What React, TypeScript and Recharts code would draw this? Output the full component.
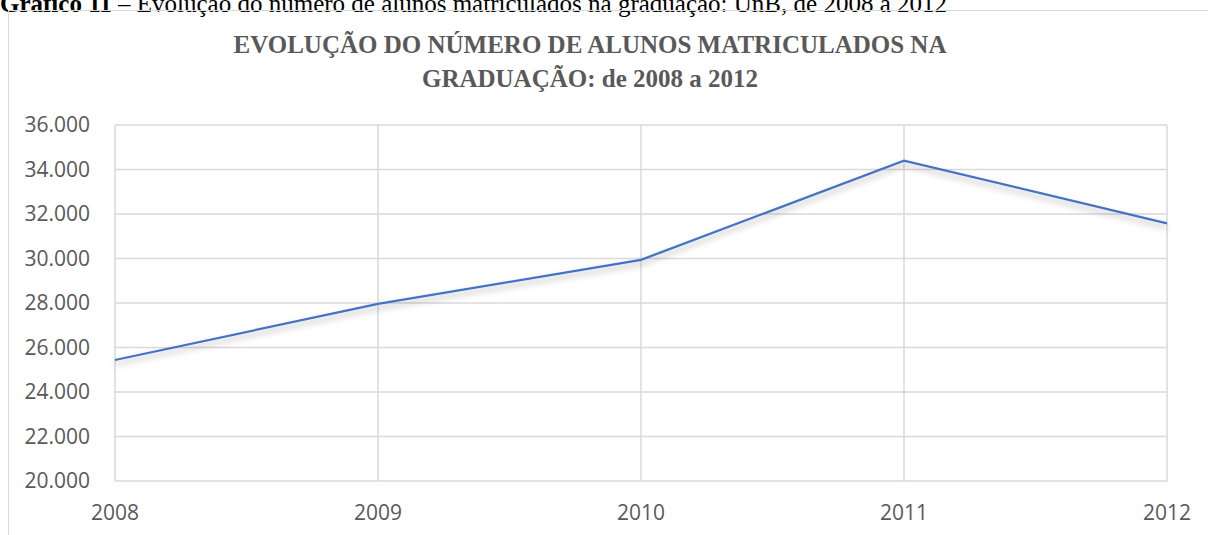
import { LineChart, Line, XAxis, YAxis, CartesianGrid } from 'recharts';

// matrículas na graduação (UnB)
const years = ['2008', '2009', '2010', '2011', '2012'];
const students = [25440, 27960, 29940, 34400, 31580];
const yTicks = [20000, 22000, 24000, 26000, 28000, 30000, 32000, 34000, 36000];

const data = years.map((year, i) => ({ year, alunos: students[i] }));

const formatThousands = (value: number) => value.toLocaleString('de-DE');

const tickStyle = { fontSize: 21, fill: '#595959', fontFamily: '"Open Sans", sans-serif' };

export default function App() {
  return (
    <div
      style={{
        position: 'absolute',
        left: 0,
        top: 0,
        width: 1208,
        height: 535,
        overflow: 'hidden',
        background: '#fff',
      }}
    >
      <div
        style={{
          position: 'absolute',
          left: 0,
          top: -9,
          whiteSpace: 'nowrap',
          fontFamily: '"Liberation Serif", serif',
          fontSize: 25,
          lineHeight: '25px',
          color: '#000',
        }}
      >
        <b>Gráfico 11</b> – Evolução do número de alunos matriculados na graduação: UnB, de 2008 a 2012
      </div>

      <div
        style={{
          position: 'absolute',
          left: 8,
          top: 10,
          width: 1220,
          height: 540,
          border: '1.5px solid #d9d9d9',
          boxSizing: 'border-box',
        }}
      />

      <div
        style={{
          position: 'absolute',
          left: 90,
          top: 28,
          width: 1000,
          textAlign: 'center',
          fontFamily: '"Liberation Serif", serif',
          fontWeight: 'bold',
          fontSize: 25,
          lineHeight: '34px',
          color: '#595959',
        }}
      >
        EVOLUÇÃO DO NÚMERO DE ALUNOS MATRICULADOS NA
        <br />
        GRADUAÇÃO: de 2008 a 2012
      </div>

      <div style={{ position: 'absolute', left: 0, top: 0 }}>
        <LineChart width={1208} height={535} data={data} margin={{ top: 125, right: 41, left: 0, bottom: 24 }}>
          <defs>
            <filter id="lineShadow" x="-10%" y="-50%" width="120%" height="200%">
              <feDropShadow dx="0" dy="4" stdDeviation="3" floodColor="#000" floodOpacity="0.3" />
            </filter>
          </defs>
          <CartesianGrid stroke="#d9d9d9" strokeWidth={1.5} vertical={true} horizontal={true} />
          <XAxis
            dataKey="year"
            height={30}
            axisLine={false}
            tickLine={false}
            tickSize={0}
            tickMargin={24}
            tick={tickStyle}
            interval={0}
          />
          <YAxis
            domain={[20000, 36000]}
            ticks={yTicks}
            tickFormatter={formatThousands}
            axisLine={false}
            tickLine={false}
            tickSize={0}
            tickMargin={25}
            width={115}
            tick={tickStyle}
            interval={0}
          />
          <Line
            type="linear"
            dataKey="alunos"
            stroke="#4472C4"
            strokeWidth={2.2}
            dot={false}
            activeDot={false}
            filter="url(#lineShadow)"
            isAnimationActive={false}
          />
        </LineChart>
      </div>
    </div>
  );
}
